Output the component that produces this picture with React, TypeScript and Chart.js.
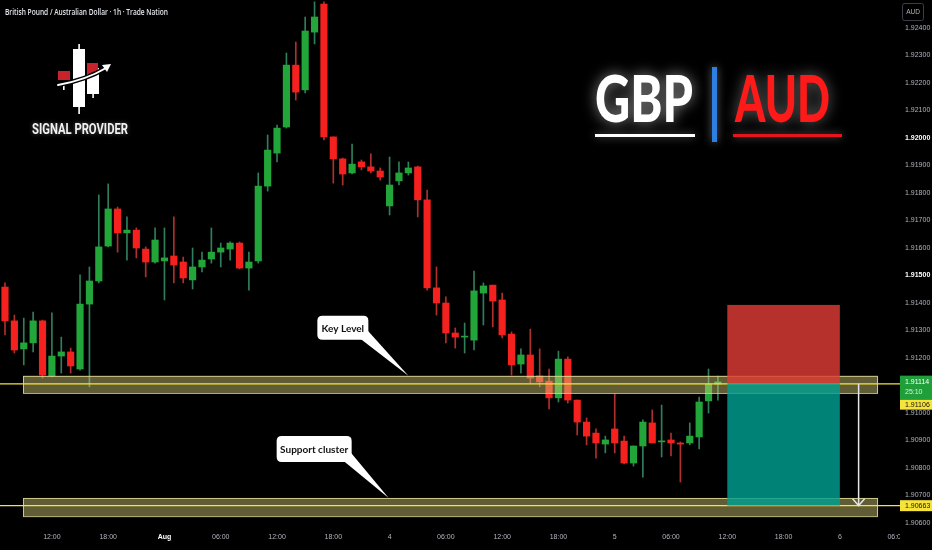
import React, { useEffect, useRef } from 'react';
import { Chart, registerables } from 'chart.js';

Chart.register(...registerables);

// ---- Candle data (GBP/AUD, 1h) ----
const opens = [
  1.91458, 1.91335, 1.91233, 1.91255, 1.91335, 1.91135, 1.91207, 1.91222, 1.91160, 1.91396,
  1.91480, 1.91607, 1.91742, 1.91655, 1.91665, 1.91596, 1.91549, 1.91553, 1.91571, 1.91549,
  1.91484, 1.91531, 1.91560, 1.91585, 1.91596, 1.91618, 1.91527, 1.91553, 1.91825, 1.91945,
  1.92040, 1.92265, 1.92175, 1.92385, 1.92487, 1.92004, 1.91924, 1.91873, 1.91913, 1.91895,
  1.91880, 1.91753, 1.91844, 1.91873, 1.91895, 1.91775, 1.91455, 1.91400, 1.91291, 1.91276,
  1.91265, 1.91436, 1.91465, 1.91411, 1.91287, 1.91178, 1.91211, 1.91135, 1.91116, 1.91055,
  1.91196, 1.91047, 1.90967, 1.90927, 1.90887, 1.90942, 1.90898, 1.90818, 1.90880, 1.90964,
  1.90895, 1.90902, 1.90891, 1.90891, 1.90913, 1.91044, 1.91105,
];
const highs = [
  1.91473, 1.91356, 1.91345, 1.91367, 1.91338, 1.91364, 1.91276, 1.91236, 1.91502, 1.91531,
  1.91793, 1.91833, 1.91749, 1.91713, 1.91673, 1.91604, 1.91673, 1.91673, 1.91713, 1.91567,
  1.91600, 1.91585, 1.91673, 1.91618, 1.91622, 1.91622, 1.91585, 1.91873, 1.92011, 1.92047,
  1.92309, 1.92349, 1.92440, 1.92495, 1.92495, 1.92004, 1.91927, 1.91978, 1.91920, 1.91942,
  1.91891, 1.91931, 1.91913, 1.91913, 1.91898, 1.91811, 1.91531, 1.91422, 1.91309, 1.91327,
  1.91516, 1.91473, 1.91465, 1.91436, 1.91295, 1.91233, 1.91305, 1.91233, 1.91160, 1.91225,
  1.91204, 1.91047, 1.90982, 1.90942, 1.90916, 1.91069, 1.90916, 1.90880, 1.90975, 1.91011,
  1.91029, 1.90927, 1.90895, 1.90964, 1.91058, 1.91160, 1.91134,
];
const lows = [
  1.91284, 1.91218, 1.91175, 1.91222, 1.91127, 1.91131, 1.91145, 1.91145, 1.91156, 1.91095,
  1.91473, 1.91604, 1.91585, 1.91556, 1.91564, 1.91495, 1.91545, 1.91411, 1.91473, 1.91473,
  1.91451, 1.91513, 1.91545, 1.91531, 1.91556, 1.91524, 1.91447, 1.91545, 1.91807, 1.91913,
  1.92036, 1.92138, 1.92164, 1.92342, 1.91993, 1.91836, 1.91829, 1.91869, 1.91884, 1.91873,
  1.91847, 1.91720, 1.91829, 1.91865, 1.91713, 1.91447, 1.91356, 1.91255, 1.91236, 1.91218,
  1.91229, 1.91320, 1.91313, 1.91273, 1.91138, 1.91145, 1.91109, 1.91095, 1.91015, 1.91040,
  1.91036, 1.90920, 1.90884, 1.90836, 1.90855, 1.90855, 1.90815, 1.90807, 1.90767, 1.90891,
  1.90840, 1.90844, 1.90749, 1.90884, 1.90869, 1.91000, 1.91047,
];
const closes = [
  1.91335, 1.91229, 1.91255, 1.91335, 1.91138, 1.91207, 1.91222, 1.91171, 1.91396, 1.91480,
  1.91604, 1.91742, 1.91655, 1.91665, 1.91600, 1.91549, 1.91629, 1.91564, 1.91538, 1.91491,
  1.91531, 1.91556, 1.91585, 1.91600, 1.91618, 1.91527, 1.91549, 1.91825, 1.91956, 1.92036,
  1.92265, 1.92167, 1.92389, 1.92440, 1.92004, 1.91924, 1.91869, 1.91905, 1.91895, 1.91880,
  1.91858, 1.91829, 1.91873, 1.91891, 1.91775, 1.91455, 1.91400, 1.91291, 1.91276, 1.91278,
  1.91444, 1.91462, 1.91407, 1.91284, 1.91175, 1.91211, 1.91127, 1.91113, 1.91055, 1.91196,
  1.91047, 1.90967, 1.90916, 1.90891, 1.90902, 1.90891, 1.90818, 1.90880, 1.90967, 1.90891,
  1.90898, 1.90891, 1.90887, 1.90916, 1.91040, 1.91105, 1.91113,
];

// ---- Axes ----
const timeTickIndex = [5, 11, 17, 23, 29, 35, 41, 47, 53, 59, 65, 71, 77, 83, 89];
const timeTickLabels = ['12:00', '18:00', 'Aug', '06:00', '12:00', '18:00', '4', '06:00', '12:00', '18:00', '5', '06:00', '12:00', '18:00', '6'];
const clippedTick = { index: 95, label: '06:00' };
const priceTicks = [
  1.906, 1.907, 1.908, 1.909, 1.91, 1.911, 1.912, 1.913, 1.914, 1.915,
  1.916, 1.917, 1.918, 1.919, 1.92, 1.921, 1.922, 1.923, 1.924,
];
const brightPriceTicks = [1.915, 1.92];
const xRange = [-0.533, 93.28];
const yRange = [1.905818, 1.925018];

// ---- Annotations ----
const zoneSpan = [1.92, 93.07];
const keyZone = [1.91135, 1.91073];
const keyLine = 1.91106;
const supportZone = [1.90691, 1.90625];
const supportLine = 1.90663;
const positionSpan = [77, 89];
const stopPrice = 1.91393;
const entryPrice = 1.91106;
const targetPrice = 1.90663;
const arrowIndex = 91;
const lastPrice = 1.91114;
const countdown = '25:10';
const callouts = [
  { text: 'Key Level', tipIndex: 43, tipPrice: 1.91135, dx: -91, dy: -60, w: 51, h: 24 },
  { text: 'Support cluster', tipIndex: 40.9, tipPrice: 1.90691, dx: -112, dy: -62, w: 75, h: 26 },
];

const GREEN = '#22a63a';
const RED = '#f5211f';

function fitText(ctx: CanvasRenderingContext2D, text: string, x: number, baseline: number, width: number, font: string, color: string) {
  ctx.save();
  ctx.font = font;
  const w = ctx.measureText(text).width;
  ctx.translate(x, baseline);
  ctx.scale(width / w, 1);
  ctx.fillStyle = color;
  ctx.textAlign = 'left';
  ctx.textBaseline = 'alphabetic';
  ctx.fillText(text, 0, 0);
  ctx.restore();
}

function roundRect(ctx: CanvasRenderingContext2D, x: number, y: number, w: number, h: number, r: number) {
  ctx.beginPath();
  ctx.moveTo(x + r, y);
  ctx.lineTo(x + w - r, y);
  ctx.quadraticCurveTo(x + w, y, x + w, y + r);
  ctx.lineTo(x + w, y + h - r);
  ctx.quadraticCurveTo(x + w, y + h, x + w - r, y + h);
  ctx.lineTo(x + r, y + h);
  ctx.quadraticCurveTo(x, y + h, x, y + h - r);
  ctx.lineTo(x, y + r);
  ctx.quadraticCurveTo(x, y, x + r, y);
  ctx.closePath();
}

const annotationPlugin = {
  id: 'annotations',
  afterDatasetsDraw(chart: any) {
    const { ctx, scales } = chart;
    const x = scales.x;
    const y = scales.y;
    ctx.save();
    // zones
    const zx0 = x.getPixelForValue(zoneSpan[0]);
    const zx1 = x.getPixelForValue(zoneSpan[1]);
    for (const [zone, line] of [[keyZone, keyLine], [supportZone, supportLine]] as [number[], number][]) {
      const y0 = y.getPixelForValue(zone[0]);
      const y1 = y.getPixelForValue(zone[1]);
      ctx.fillStyle = 'rgba(212,205,120,0.45)';
      ctx.fillRect(zx0, y0, zx1 - zx0, y1 - y0);
      ctx.strokeStyle = 'rgba(226,220,150,0.85)';
      ctx.lineWidth = 1;
      ctx.strokeRect(zx0 + 0.5, y0 + 0.5, zx1 - zx0 - 1, y1 - y0);
      const yl = y.getPixelForValue(line);
      ctx.strokeStyle = '#f7e43a';
      ctx.lineWidth = 1.4;
      ctx.beginPath();
      ctx.moveTo(0, yl);
      ctx.lineTo(900, yl);
      ctx.stroke();
    }
    // position tool
    const px0 = x.getPixelForValue(positionSpan[0]);
    const px1 = x.getPixelForValue(positionSpan[1]);
    const ys = y.getPixelForValue(stopPrice);
    const ye = y.getPixelForValue(entryPrice);
    const yt = y.getPixelForValue(targetPrice);
    ctx.fillStyle = 'rgba(222,60,52,0.82)';
    ctx.fillRect(px0, ys, px1 - px0, ye - ys);
    ctx.fillStyle = 'rgba(0,160,144,0.82)';
    ctx.fillRect(px0, ye, px1 - px0, yt - ye);
    // arrow
    const ax = x.getPixelForValue(arrowIndex);
    ctx.strokeStyle = '#e6e6e6';
    ctx.lineWidth = 1.5;
    ctx.beginPath();
    ctx.moveTo(ax, ye);
    ctx.lineTo(ax, yt);
    ctx.moveTo(ax - 6, yt - 7);
    ctx.lineTo(ax, yt);
    ctx.lineTo(ax + 6, yt - 7);
    ctx.stroke();
    // callouts
    for (const c of callouts) {
      const tx = x.getPixelForValue(c.tipIndex);
      const ty = y.getPixelForValue(c.tipPrice);
      const bx = tx + c.dx;
      const by = ty + c.dy;
      ctx.fillStyle = '#ffffff';
      roundRect(ctx, bx, by, c.w, c.h, 5);
      ctx.fill();
      ctx.beginPath();
      ctx.moveTo(bx + c.w - 8, by + c.h - 1);
      ctx.lineTo(tx, ty);
      ctx.lineTo(bx + c.w - 0.5, by + c.h - 9);
      ctx.closePath();
      ctx.fill();
      ctx.fillStyle = '#111';
      ctx.font = 'bold 10px Lato, "Open Sans", sans-serif';
      ctx.textAlign = 'center';
      ctx.textBaseline = 'middle';
      ctx.fillText(c.text, bx + c.w / 2, by + c.h / 2 + 0.5);
    }
    ctx.restore();
  },
  afterDraw(chart: any) {
    const { ctx, scales } = chart;
    const x = scales.x;
    const y = scales.y;
    ctx.save();
    // title
    fitText(ctx, 'British Pound / Australian Dollar · 1h · Trade Nation', 5, 15, 163, '600 8px "Open Sans", sans-serif', '#e3e5ea');

    // logo
    ctx.fillStyle = '#ffffff';
    ctx.fillRect(78.3, 44, 1.6, 70);
    ctx.fillRect(73, 49, 12, 58);
    ctx.fillRect(92.3, 63, 1.6, 35);
    ctx.fillRect(87, 68, 12, 26);
    ctx.fillRect(63, 82, 1.6, 8);
    ctx.fillStyle = '#c8232c';
    ctx.fillRect(58, 71, 12, 9);
    ctx.fillRect(87, 63, 11, 11);
    ctx.lineCap = 'round';
    ctx.strokeStyle = '#000';
    ctx.lineWidth = 4.5;
    ctx.beginPath();
    ctx.moveTo(58, 85);
    ctx.quadraticCurveTo(86, 80, 106, 68);
    ctx.stroke();
    ctx.strokeStyle = '#ffffff';
    ctx.lineWidth = 2;
    ctx.beginPath();
    ctx.moveTo(58, 85);
    ctx.quadraticCurveTo(86, 80, 106, 68);
    ctx.stroke();
    ctx.fillStyle = '#ffffff';
    ctx.beginPath();
    ctx.moveTo(111, 64);
    ctx.lineTo(102, 65);
    ctx.lineTo(107, 72);
    ctx.closePath();
    ctx.fill();
    ctx.shadowColor = 'rgba(255,255,255,0.35)';
    ctx.shadowBlur = 4;
    fitText(ctx, 'SIGNAL PROVIDER', 32, 134, 96, 'bold 14px Roboto, sans-serif', '#f2f2f2');
    ctx.shadowBlur = 0;

    // GBP | AUD
    ctx.shadowColor = 'rgba(170,170,170,0.85)';
    ctx.shadowBlur = 14;
    fitText(ctx, 'GBP', 595, 122, 98, '900 65px Lato, "Open Sans", sans-serif', '#ffffff');
    ctx.shadowColor = 'rgba(150,150,150,0.7)';
    fitText(ctx, 'AUD', 735, 122, 95, '900 65px Lato, "Open Sans", sans-serif', '#ff1a1a');
    ctx.shadowBlur = 8;
    ctx.fillStyle = '#ffffff';
    ctx.fillRect(595, 134, 100, 3);
    ctx.fillStyle = '#e8141c';
    ctx.fillRect(733, 134, 109, 3);
    ctx.fillStyle = '#2d80e2';
    ctx.fillRect(712, 67, 5, 75);
    ctx.shadowBlur = 0;

    // AUD badge
    ctx.strokeStyle = '#3a3e48';
    ctx.lineWidth = 1;
    roundRect(ctx, 902.5, 3.5, 21, 17, 2);
    ctx.stroke();
    ctx.fillStyle = '#b2b5be';
    ctx.font = '6.5px "Liberation Sans", sans-serif';
    ctx.textAlign = 'center';
    ctx.textBaseline = 'middle';
    ctx.fillText('AUD', 913, 12.5);

    // price labels
    const yl = y.getPixelForValue(lastPrice);
    ctx.textAlign = 'left';
    ctx.textBaseline = 'middle';
    ctx.font = '7px "Liberation Sans", sans-serif';
    ctx.fillStyle = '#1f9e3a';
    ctx.fillRect(900, yl - 6, 32, 24);
    ctx.fillStyle = '#ffffff';
    ctx.fillText(lastPrice.toFixed(5), 905, yl);
    ctx.fillStyle = '#d8f0dc';
    ctx.fillText(countdown, 905, yl + 10);
    ctx.fillStyle = '#f7e43a';
    ctx.fillRect(900, yl + 18, 32, 10);
    ctx.fillStyle = '#111';
    ctx.fillText(keyLine.toFixed(5), 905, yl + 23);
    const ysup = y.getPixelForValue(supportLine);
    ctx.fillStyle = '#f7e43a';
    ctx.fillRect(900, ysup - 5.5, 32, 11);
    ctx.fillStyle = '#111';
    ctx.fillText(supportLine.toFixed(5), 905, ysup);

    // clipped last time label
    const cx = x.getPixelForValue(clippedTick.index);
    ctx.save();
    ctx.beginPath();
    ctx.rect(880, 528, 20, 22);
    ctx.clip();
    ctx.fillStyle = '#b2b5be';
    ctx.textAlign = 'center';
    ctx.fillText(clippedTick.label, cx, 537);
    ctx.restore();
    ctx.restore();
  },
};

export default function App() {
  const canvasRef = useRef<HTMLCanvasElement | null>(null);

  useEffect(() => {
    document.body.style.margin = '0';
    document.body.style.background = '#000';
    const canvas = canvasRef.current;
    if (!canvas) return;
    const idx = opens.map((_, i) => i);
    const up = opens.map((o, i) => closes[i] >= o);
    const bodyData = idx.map((i) => ({ x: i, y: [opens[i], closes[i]] }));
    const wickData = idx.map((i) => ({ x: i, y: [lows[i], highs[i]] }));

    const chart = new Chart(canvas, {
      type: 'bar',
      data: {
        datasets: [
          {
            data: bodyData as any,
            backgroundColor: up.map((u) => (u ? GREEN : RED)),
            borderWidth: 0,
            barThickness: 6.5,
            minBarLength: 1,
            grouped: false,
            order: 0,
          } as any,
          {
            data: wickData as any,
            backgroundColor: up.map((u) => (u ? '#2f7f5a' : '#b0302c')),
            borderWidth: 0,
            barThickness: 1,
            grouped: false,
            order: 1,
          } as any,
        ],
      },
      options: {
        animation: false,
        responsive: false,
        maintainAspectRatio: false,
        layout: { padding: 0 },
        plugins: { legend: { display: false }, tooltip: { enabled: false } },
        scales: {
          x: {
            type: 'linear',
            min: xRange[0],
            max: xRange[1],
            offset: false,
            grid: { display: false, drawTicks: false },
            border: { display: false },
            afterFit: (s: any) => { s.height = 22; s.paddingLeft = 0; s.paddingRight = 0; },
            afterBuildTicks: (s: any) => { s.ticks = timeTickIndex.map((v) => ({ value: v })); },
            ticks: {
              autoSkip: false,
              maxRotation: 0,
              padding: 5,
              color: (c: any) => (c.tick && c.tick.label === 'Aug' ? '#ffffff' : '#b2b5be'),
              font: (c: any) => ({ family: '"Liberation Sans", sans-serif', size: 7, weight: c.tick && c.tick.label === 'Aug' ? 'bold' : 'normal' }),
              callback: (v: any) => {
                const i = timeTickIndex.indexOf(Number(v));
                return i >= 0 ? timeTickLabels[i] : '';
              },
            },
          } as any,
          y: {
            type: 'linear',
            position: 'right',
            min: yRange[0],
            max: yRange[1],
            grid: { display: false, drawTicks: false },
            border: { display: false },
            afterFit: (s: any) => { s.width = 52; s.paddingTop = 0; s.paddingBottom = 0; },
            afterBuildTicks: (s: any) => { s.ticks = priceTicks.map((v) => ({ value: v })); },
            ticks: {
              padding: 25,
              color: (c: any) => (c.tick && brightPriceTicks.some((b) => Math.abs(b - c.tick.value) < 1e-7) ? '#ffffff' : '#b2b5be'),
              font: (c: any) => ({ family: '"Liberation Sans", sans-serif', size: 7, weight: c.tick && brightPriceTicks.some((b) => Math.abs(b - c.tick.value) < 1e-7) ? 'bold' : 'normal' }),
              callback: (v: any) => Number(v).toFixed(5),
            },
          } as any,
        },
      },
      plugins: [annotationPlugin as any],
    });
    return () => chart.destroy();
  }, []);

  return (
    <div style={{ position: 'absolute', left: 0, top: 0, width: 932, height: 550, background: '#000' }}>
      <canvas ref={canvasRef} width={932} height={550} style={{ display: 'block', width: 932, height: 550 }} />
    </div>
  );
}
